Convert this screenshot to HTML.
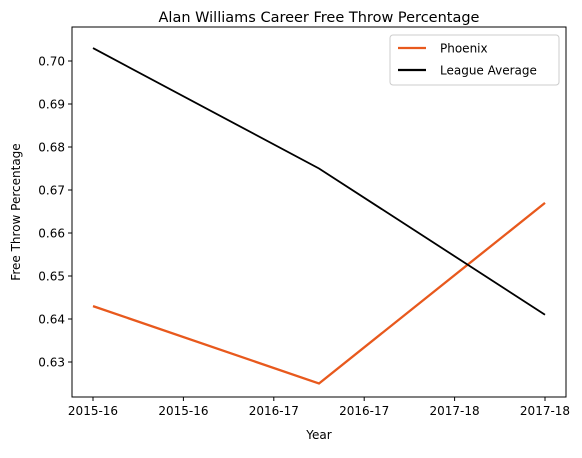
<!DOCTYPE html>
<html><head><meta charset="utf-8"><style>
body{margin:0;background:#fff;font-family:"Liberation Sans","DejaVu Sans",sans-serif;}
</style></head><body>
<svg id="chart" width="582" height="453" xmlns="http://www.w3.org/2000/svg" font-family="'DejaVu Sans','Liberation Sans',sans-serif"></svg>
<script>
const categories=[0,1,2];
const tickPositions=[0,0.4,0.8,1.2,1.6,2.0];
const tickLabels=["2015-16","2015-16","2016-17","2016-17","2017-18","2017-18"];
const phoenix=[0.643,0.625,0.667];
const league=[0.703,0.675,0.641];
const yTicks=[0.63,0.64,0.65,0.66,0.67,0.68,0.69,0.70];
const svg=document.getElementById('chart');
const NS='http://www.w3.org/2000/svg';
const L=72,R=566,T=27,B=397;
const x=v=>93+v*226;
const y=v=>61+(0.70-v)*4300;
function mk(tag,attrs,text){const e=document.createElementNS(NS,tag);for(const k in attrs)e.setAttribute(k,attrs[k]);if(text!==undefined)e.textContent=text;svg.appendChild(e);return e;}
let t=mk('text',{x:319,y:22,'text-anchor':'middle','font-size':14.5},'Alan Williams  Career Free Throw Percentage');

yTicks.forEach(v=>{
 let l=mk('line',{x1:L-4,x2:L,y1:y(v),y2:y(v),stroke:'#000'});
 
 let tx=mk('text',{x:L-7,y:y(v)+4.5,'text-anchor':'end','font-size':12},v.toFixed(2));
 
});
tickPositions.forEach((p,i)=>{
 let l=mk('line',{x1:x(p),x2:x(p),y1:B,y2:B+4,stroke:'#000'});
 
 let tx=mk('text',{x:x(p),y:B+18,'text-anchor':'middle','font-size':12},tickLabels[i]);
 
});
let xt=mk('text',{x:319,y:439,'text-anchor':'middle','font-size':12},'Year');

let yt=mk('text',{x:20,y:212,'text-anchor':'middle','font-size':12,transform:'rotate(-90 20 212)'},'Free Throw Percentage');

let p1=mk('polyline',{points:categories.map((c,i)=>x(c)+','+y(phoenix[i])).join(' '),fill:'none',stroke:'#e8591d','stroke-width':2.3});

let p2=mk('polyline',{points:categories.map((c,i)=>x(c)+','+y(league[i])).join(' '),fill:'none',stroke:'#000','stroke-width':1.8});

let fr=mk('rect',{x:L,y:T,width:R-L,height:B-T,fill:'none',stroke:'#000','stroke-width':1});

let lg=mk('rect',{x:390,y:35,width:169,height:50,fill:'#fff',stroke:'#ccc',rx:3});

let e1=mk('line',{x1:398,x2:426,y1:48,y2:48,stroke:'#e8591d','stroke-width':2.3});

let e1t=mk('text',{x:440,y:52.5,'font-size':12},'Phoenix');

let e2=mk('line',{x1:398,x2:426,y1:70,y2:70,stroke:'#000','stroke-width':2.3});

let e2t=mk('text',{x:440,y:74.5,'font-size':12},'League Average');

</script>
</body></html>
